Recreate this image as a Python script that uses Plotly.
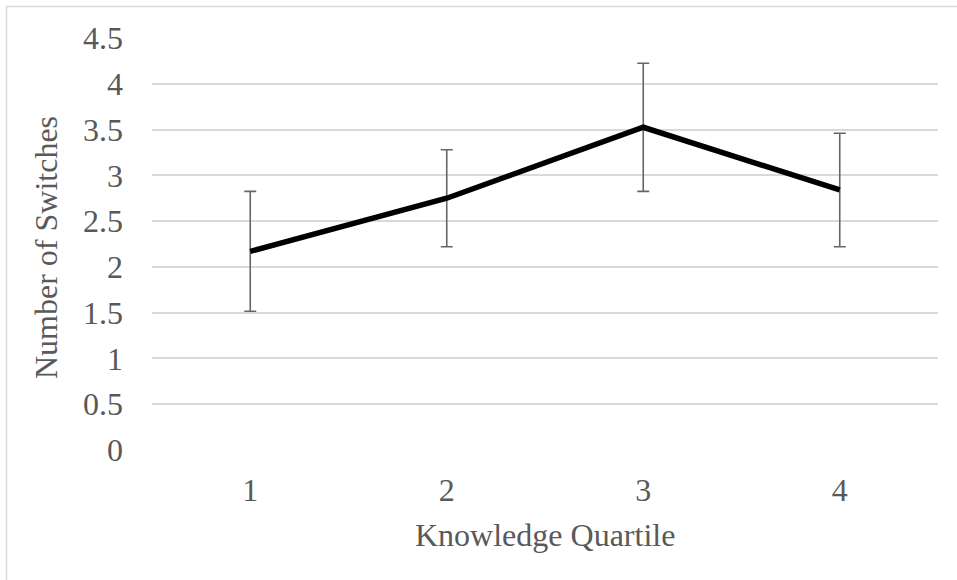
import plotly.graph_objects as go

quartiles = ["1", "2", "3", "4"]
mean_switches = [2.17, 2.75, 3.525, 2.84]
error_margin = [0.655, 0.53, 0.70, 0.62]
y_ticks = [0, 0.5, 1, 1.5, 2, 2.5, 3, 3.5, 4, 4.5]
y_tick_text = ["0", "0.5", "1", "1.5", "2", "2.5", "3", "3.5", "4", "4.5"]

W, H = 957, 580
L, R, T, B = 152, 19, 38, 130
pw, ph = W - L - R, H - T - B

FONT = "Liberation Serif, Times New Roman, serif"
GRAY = "#595959"
FS = 32

fig = go.Figure()
fig.add_trace(go.Scatter(
    x=quartiles, y=mean_switches, mode="lines",
    line=dict(color="black", width=5.5),
    error_y=dict(type="data", array=error_margin, visible=True,
                 color="#666666", thickness=1.6, width=6),
    showlegend=False, hoverinfo="skip",
))

fig.update_layout(
    width=W, height=H,
    margin=dict(l=L, r=R, t=T, b=B),
    paper_bgcolor="white", plot_bgcolor="white",
    font=dict(family=FONT, size=FS, color=GRAY),
    xaxis=dict(type="category", range=[-0.5, 3.5], showgrid=False, zeroline=False,
               showline=False, ticks="", ticklabelstandoff=18,
               tickfont=dict(family=FONT, size=FS, color=GRAY)),
    yaxis=dict(range=[0, 4.5], tickvals=y_ticks, ticktext=y_tick_text,
               showgrid=True, gridcolor="#d9d9d9", gridwidth=1.5,
               zeroline=False, showline=False, ticks="",
               ticklabelstandoff=28,
               tickfont=dict(family=FONT, size=FS, color=GRAY)),
    annotations=[
        dict(text="Knowledge Quartile", xref="paper", yref="paper",
             x=0.5, y=-(535 - (T + ph)) / ph, xanchor="center", yanchor="middle",
             showarrow=False, font=dict(family=FONT, size=FS, color=GRAY)),
        dict(text="Number of Switches", xref="paper", yref="paper",
             x=(46 - L) / pw, y=(T + ph - 247) / ph, xanchor="center", yanchor="middle",
             textangle=-90, showarrow=False,
             font=dict(family=FONT, size=FS, color=GRAY)),
    ],
    shapes=[
        dict(type="rect", xref="paper", yref="paper",
             x0=(6.5 - L) / pw, x1=2, y0=-2, y1=(T + ph - 6.5) / ph,
             line=dict(color="#d9d9d9", width=1.5), layer="below"),
    ],
)

fig.write_html("out.html")
